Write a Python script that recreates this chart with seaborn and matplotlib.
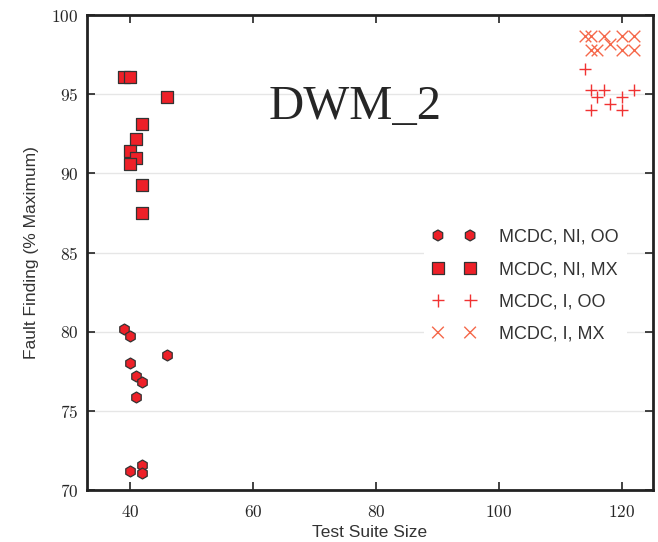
import numpy as np
import pandas as pd
import matplotlib
matplotlib.use("Agg")
import matplotlib.pyplot as plt
import seaborn as sns

# MCDC, NI, OO
oo_ni_x = [39, 40, 46, 40, 41, 42, 41, 42, 40, 42]
oo_ni_y = [80.2, 79.7, 78.5, 78.0, 77.2, 76.8, 75.9, 71.6, 71.2, 71.1]
# MCDC, NI, MX
mx_ni_x = [39, 40, 46, 42, 41, 40, 41, 40, 42, 42]
mx_ni_y = [96.1, 96.1, 94.8, 93.1, 92.2, 91.4, 91.0, 90.6, 89.3, 87.5]
# MCDC, I, OO
oo_i_x = [114, 115, 117, 116, 122, 120, 118, 115, 120]
oo_i_y = [96.6, 95.3, 95.3, 94.8, 95.3, 94.8, 94.4, 94.0, 94.0]
# MCDC, I, MX
mx_i_x = [114, 115, 117, 120, 122, 115, 116, 118, 120, 122]
mx_i_y = [98.7, 98.7, 98.7, 98.7, 98.7, 97.8, 97.8, 98.2, 97.8, 97.8]

labels = ["MCDC, NI, OO", "MCDC, NI, MX", "MCDC, I, OO", "MCDC, I, MX"]
xticks = [40, 60, 80, 100, 120]
yticks = [70, 75, 80, 85, 90, 95, 100]

sns.set_style("ticks")
plt.rcParams["axes.formatter.use_mathtext"] = True

fig = plt.figure(figsize=(6.58, 5.42), dpi=100)
ax = fig.add_axes([0.132, 0.096, 0.860, 0.876])

ax.grid(axis="y", color="#e6e6e6", lw=1)
ax.set_axisbelow(True)

sns.scatterplot(x=oo_ni_x, y=oo_ni_y, marker="h", color="#ee2028", edgecolor="#333333",
                linewidth=0.9, s=62, label=labels[0], ax=ax, zorder=3)
sns.scatterplot(x=mx_ni_x, y=mx_ni_y, marker="s", color="#ee2028", edgecolor="#333333",
                linewidth=0.9, s=68, label=labels[1], ax=ax, zorder=3)
sns.scatterplot(x=oo_i_x, y=oo_i_y, marker="+", color="#f03232", linewidth=1.0,
                s=85, label=labels[2], ax=ax, zorder=3)
sns.scatterplot(x=mx_i_x, y=mx_i_y, marker="x", color="#f5684a", linewidth=1.0,
                s=70, label=labels[3], ax=ax, zorder=3)

ax.set_xlim(33, 125)
ax.set_ylim(70, 100)
ax.set_xticks(xticks)
ax.set_yticks(yticks)
for t in ax.get_xticklabels() + ax.get_yticklabels():
    t.set_fontfamily("cmr10")
    t.set_fontsize(12.5)
ax.tick_params(direction="in", length=6, width=1.2, color="#222222",
               top=True, right=True)
ax.tick_params(axis="x", pad=10)
ax.tick_params(axis="y", pad=6)

for sp in ax.spines.values():
    sp.set_linewidth(2)
    sp.set_color("#222222")
    sp.set_visible(True)

ax.set_xlabel("Test Suite Size", fontsize=12.5, family="Liberation Sans", color="#333333")
ax.set_ylabel("Fault Finding (% Maximum)", fontsize=12.5, family="Liberation Sans",
              color="#333333", labelpad=9)

ax.text(0.4735, 0.806, "DWM_2", transform=ax.transAxes, ha="center", va="center",
        fontsize=35, family="Liberation Serif")

leg = ax.legend(loc="center left", bbox_to_anchor=(0.579, 0.430), scatterpoints=2,
                scatteryoffsets=[0.5], handlelength=2.38, handletextpad=1.28,
                labelspacing=0.85, borderpad=0.5, frameon=True, fancybox=False,
                prop={"family": "Liberation Sans", "size": 13})
leg.get_frame().set_edgecolor("none")
leg.get_frame().set_facecolor("white")
leg.get_frame().set_alpha(1)
for t in leg.get_texts():
    t.set_color("#333333")

fig.savefig("out.png", dpi=100)
